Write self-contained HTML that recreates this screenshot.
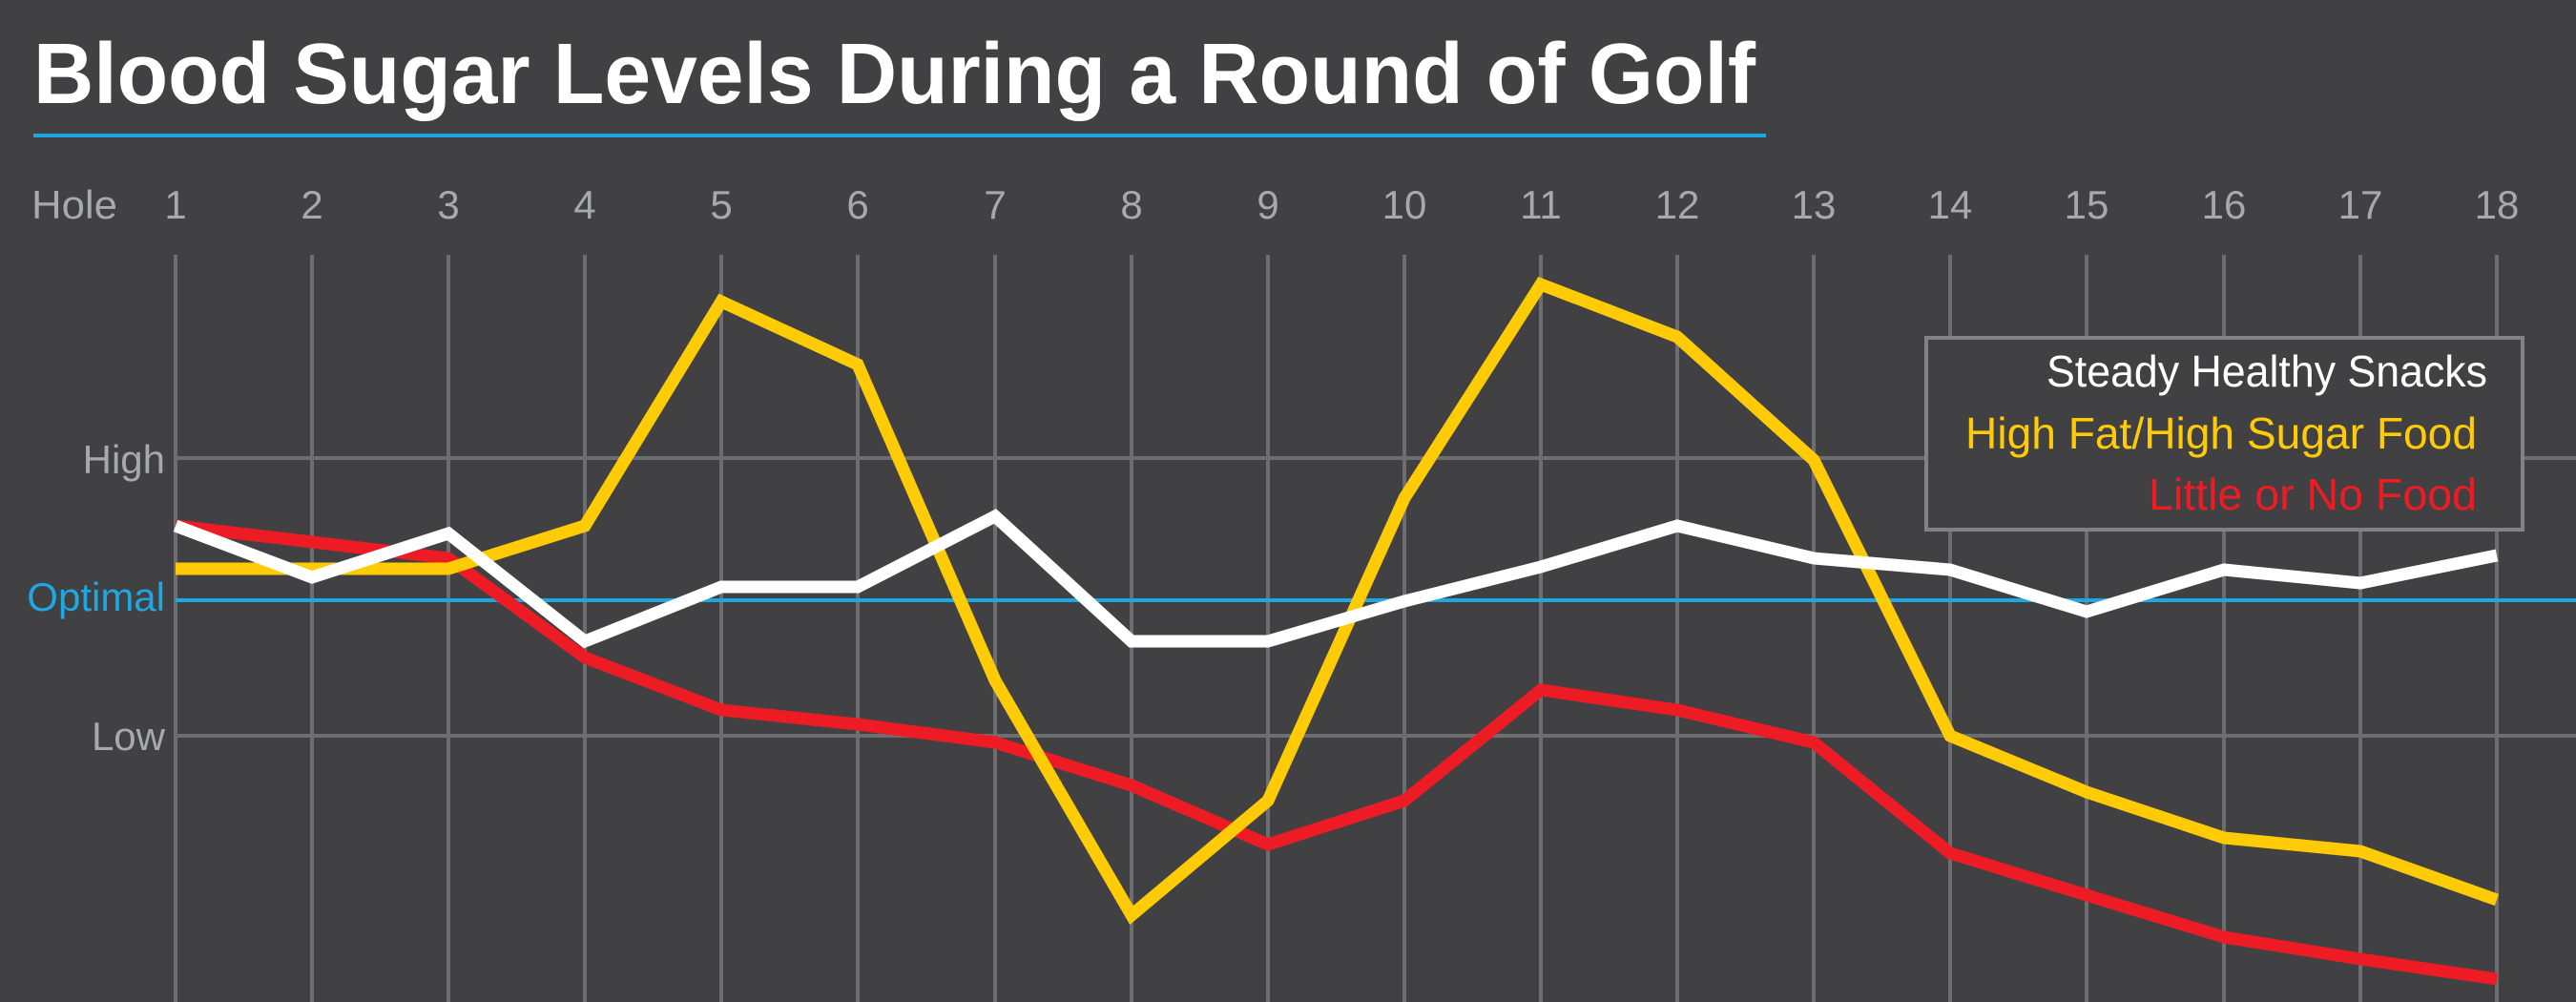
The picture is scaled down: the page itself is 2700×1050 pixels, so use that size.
<!DOCTYPE html>
<html><head><meta charset="utf-8"><style>html,body{margin:0;padding:0;background:#414042}svg{display:block}</style></head>
<body>
<svg width="2700" height="1050" viewBox="0 0 2700 1050" xmlns="http://www.w3.org/2000/svg">
<rect width="2700" height="1050" fill="#414042"/>
<text x="35" y="108" fill="#fff" font-family="Liberation Sans, sans-serif" font-weight="bold" font-size="90" textLength="1805" lengthAdjust="spacingAndGlyphs">Blood Sugar Levels During a Round of Golf</text>
<rect x="35" y="140" width="1816" height="4" fill="#1ea7e0"/>
<g font-family="Liberation Sans, sans-serif" font-size="42" fill="#a7a9ac">
<text x="33" y="229" textLength="90" lengthAdjust="spacingAndGlyphs">Hole</text>
<g text-anchor="middle">
<text x="184" y="229">1</text><text x="327" y="229">2</text><text x="470" y="229">3</text><text x="613" y="229">4</text><text x="756" y="229">5</text><text x="899" y="229">6</text><text x="1043" y="229">7</text><text x="1186" y="229">8</text><text x="1329" y="229">9</text><text x="1472" y="229">10</text><text x="1615" y="229">11</text><text x="1758" y="229">12</text><text x="1901" y="229">13</text><text x="2044" y="229">14</text><text x="2187" y="229">15</text><text x="2331" y="229">16</text><text x="2474" y="229">17</text><text x="2617" y="229">18</text>
</g>
<g text-anchor="end">
<text x="173" y="496">High</text>
<text x="173" y="640" fill="#1ea7e0">Optimal</text>
<text x="173" y="786">Low</text>
</g>
</g>
<g stroke="#6d6e71" stroke-width="4">
<path d="M184 267V1050M327 267V1050M470 267V1050M613 267V1050M756 267V1050M899 267V1050M1043 267V1050M1186 267V1050M1329 267V1050M1472 267V1050M1615 267V1050M1758 267V1050M1901 267V1050M2044 267V1050M2187 267V1050M2331 267V1050M2474 267V1050M2617 267V1050"/>
<path d="M184 480H2700M184 771H2700"/>
</g>
<path d="M184 629H2700" stroke="#1ea7e0" stroke-width="4"/>
<g fill="none" stroke-width="13" stroke-linejoin="miter">
<polyline stroke="#ed1c24" points="184,551 327,568 470,585 613,689 756,744 899,759 1043,778 1186,823 1329,885 1472,839 1615,723 1758,744 1901,778 2044,894 2187,938 2331,982 2474,1005 2617,1026"/>
<polyline stroke="#ffcb05" points="184,596 327,596 470,596 613,551 756,316 899,382 1043,713 1186,959 1329,839 1472,522 1615,298 1758,353 1901,482 2044,771 2187,830 2331,878 2474,892 2617,943"/>
<polyline stroke="#fff" points="184,551 327,605 470,559 613,672 756,615 899,615 1043,541 1186,672 1329,672 1472,630 1615,594 1758,551 1901,585 2044,597 2187,641 2331,597 2474,611 2617,582"/>
</g>
<rect x="2019" y="354" width="625" height="201" fill="#414042" stroke="#808285" stroke-width="4"/>
<g font-family="Liberation Sans, sans-serif" font-size="46" text-anchor="end">
<text x="2607" y="405" fill="#fff" textLength="462" lengthAdjust="spacingAndGlyphs">Steady Healthy Snacks</text>
<text x="2596" y="470" fill="#ffcb05" textLength="536" lengthAdjust="spacingAndGlyphs">High Fat/High Sugar Food</text>
<text x="2596" y="534" fill="#ed1c24" textLength="344" lengthAdjust="spacingAndGlyphs">Little or No Food</text>
</g>
</svg>
</body></html>
